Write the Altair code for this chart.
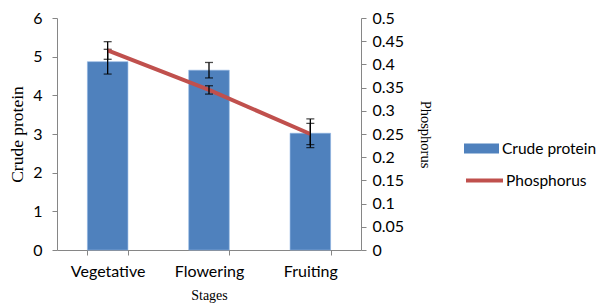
import altair as alt
import pandas as pd

stages = ["Vegetative", "Flowering", "Fruiting"]
crude = [4.87, 4.65, 3.02]
crude_err = [0.32, 0.20, 0.37]
phos = [0.43, 0.345, 0.25]
phos_err = [0.019, 0.009, 0.023]
left_ticks = [0, 1, 2, 3, 4, 5, 6]
right_ticks = [0, 0.05, 0.1, 0.15, 0.2, 0.25, 0.3, 0.35, 0.4, 0.45, 0.5]

df = pd.DataFrame({
    "stage": stages,
    "crude": crude,
    "crude_lo": [v - e for v, e in zip(crude, crude_err)],
    "crude_hi": [v + e for v, e in zip(crude, crude_err)],
    "phos": phos,
    "phos_lo": [v - e for v, e in zip(phos, phos_err)],
    "phos_hi": [v + e for v, e in zip(phos, phos_err)],
    "s1": ["Crude protein"] * 3,
    "s2": ["Phosphorus"] * 3,
})

SANS = "Lato"
SERIF = "Liberation Serif"
LFS = 16
xscale = alt.Scale(paddingInner=0.6, paddingOuter=0.3)
x_axis = alt.Axis(title="Stages", labelAngle=0, tickBand="extent",
                  labelFont=SANS, labelFontSize=LFS, labelPadding=8,
                  titleFont=SERIF, titleFontSize=14, titleFontWeight="normal",
                  titlePadding=9, tickSize=5)
left_axis = alt.Axis(title="Crude protein", orient="left", values=left_ticks,
                     labelOverlap=False, labelFont=SANS, labelFontSize=LFS, labelPadding=10,
                     titleFont=SERIF, titleFontSize=17.5, titleFontWeight="normal",
                     titlePadding=6, tickSize=5)
right_axis = alt.Axis(title="Phosphorus", orient="right", values=right_ticks, format="~g",
                      labelOverlap=False, labelFont=SANS, labelFontSize=LFS, labelPadding=6,
                      titleFont=SERIF, titleFontSize=14.5, titleFontWeight="normal",
                      titlePadding=14, tickSize=5)


def X():
    return alt.X("stage:N", sort=stages, scale=xscale, axis=x_axis)


base = alt.Chart(df)

ly = alt.Scale(domain=[0, 6], nice=False)
ry = alt.Scale(domain=[0, 0.5], nice=False)

bar = base.mark_bar(stroke="#8DB3E2", strokeWidth=0.6).encode(
    x=X(),
    y=alt.Y("crude:Q", scale=ly, axis=left_axis),
    fill=alt.Fill("s1:N", scale=alt.Scale(domain=["Crude protein"], range=["#4F81BD"]),
                  legend=alt.Legend(title=None, orient="none", legendX=407, legendY=113,
                                    symbolType="M-1,-0.286h2v0.572h-2Z", symbolSize=1225,
                                    symbolStrokeWidth=0, labelFont=SANS, labelFontSize=15.5,
                                    labelOffset=3)),
)
cp_rule = base.mark_rule(color="black", strokeWidth=1.3).encode(
    x=X(), y=alt.Y("crude_lo:Q", scale=ly, axis=left_axis), y2="crude_hi:Q")
cp_cap1 = base.mark_tick(color="black", orient="horizontal", size=8, thickness=1.3).encode(
    x=X(), y=alt.Y("crude_lo:Q", scale=ly, axis=left_axis))
cp_cap2 = base.mark_tick(color="black", orient="horizontal", size=8, thickness=1.3).encode(
    x=X(), y=alt.Y("crude_hi:Q", scale=ly, axis=left_axis))

line = base.mark_line(strokeWidth=4).encode(
    x=X(),
    y=alt.Y("phos:Q", scale=ry, axis=right_axis),
    stroke=alt.Stroke("s2:N", scale=alt.Scale(domain=["Phosphorus"], range=["#C0504D"]),
                      legend=alt.Legend(title=None, orient="none", legendX=407, legendY=142,
                                        symbolType="stroke", symbolSize=1369,
                                        symbolStrokeWidth=4, labelFont=SANS, labelFontSize=15.5,
                                        labelOffset=1)),
)
p_rule = base.mark_rule(color="black", strokeWidth=1.3).encode(
    x=X(), y=alt.Y("phos_lo:Q", scale=ry, axis=right_axis), y2="phos_hi:Q")
p_cap1 = base.mark_tick(color="black", orient="horizontal", size=8, thickness=1.3).encode(
    x=X(), y=alt.Y("phos_lo:Q", scale=ry, axis=right_axis))
p_cap2 = base.mark_tick(color="black", orient="horizontal", size=8, thickness=1.3).encode(
    x=X(), y=alt.Y("phos_hi:Q", scale=ry, axis=right_axis))

left = alt.layer(bar, cp_rule, cp_cap1, cp_cap2)
right = alt.layer(line, p_rule, p_cap1, p_cap2)

chart = alt.layer(left, right).resolve_scale(y="independent", fill="independent", stroke="independent").properties(
    width=304, height=232,
    autosize=alt.AutoSizeParams(type="none"),
    padding={"left": 49, "top": 10, "right": 239, "bottom": 58},
).configure_view(stroke=None).configure_axis(
    grid=False, domainColor="#868686", tickColor="#868686", labelColor="black",
    titleColor="black",
)

chart.save("out.html", embed_options={"renderer": "svg", "actions": False})
